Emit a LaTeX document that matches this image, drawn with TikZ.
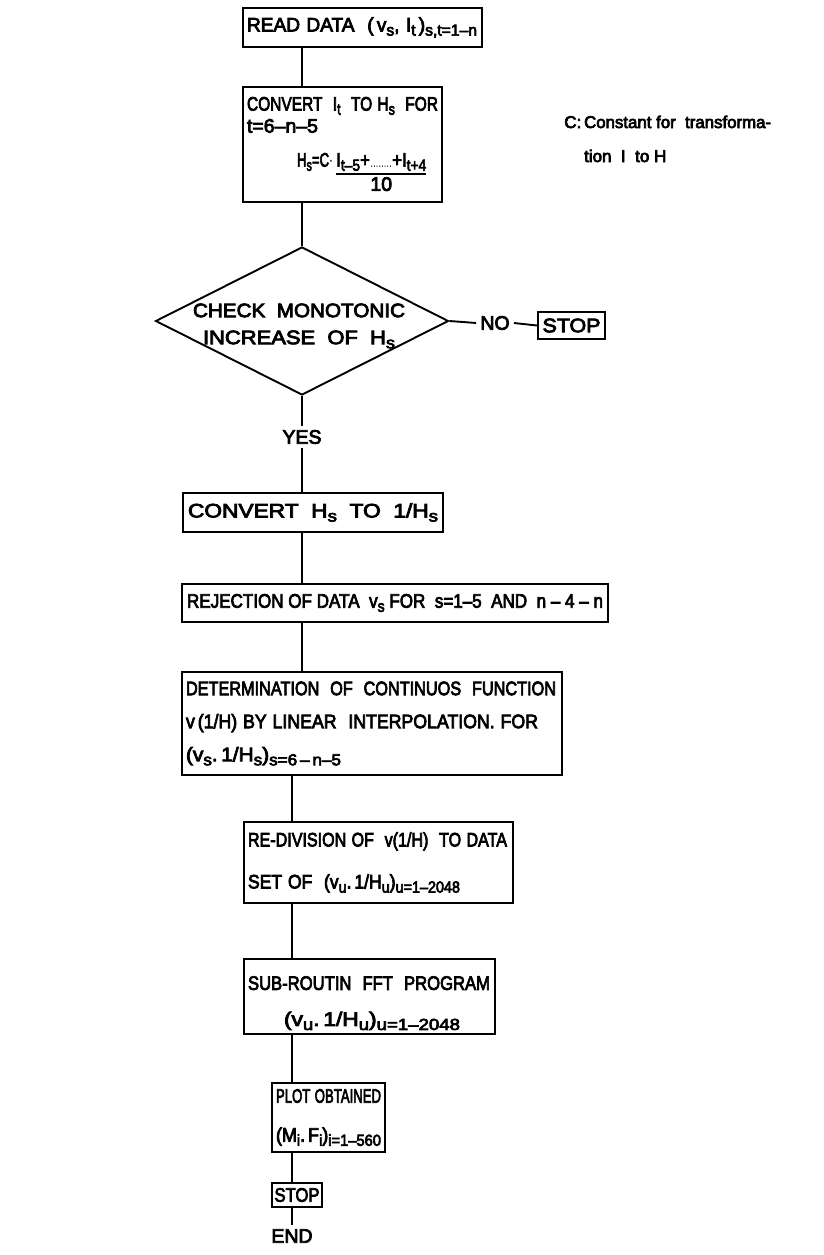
\documentclass[tikz,border=0pt]{standalone}
\usepackage{graphicx}
\usepackage{fontspec}
\setmainfont{Liberation Sans}[FakeBold=4]
\usetikzlibrary{positioning,shapes.geometric}
\newcommand{\sbs}[1]{\raisebox{-0.4ex}{\fontsize{16}{16}\selectfont #1}}
\newcommand{\fitw}[2]{\resizebox{#1}{\height}{#2}}
\setlength{\arrayrulewidth}{1.6pt}

\begin{document}
\begin{tikzpicture}[x=1pt, y=-1pt, line width=1.9pt,
  every node/.style={font=\fontsize{19.5}{22}\selectfont},
  blk/.style={draw, rectangle, inner sep=4pt, align=left},
  dec/.style={draw, diamond, inner sep=0pt}]
\useasboundingbox (0,0) rectangle (824,1255);
\node[blk, text width=231, minimum height=39] (read) at (362.5,27.5) {\fitw{230pt}{READ DATA\ \ (\,v\sbs{s},\ I\sbs{t}\,)\sbs{s,t=1--n}}};
\node[blk, text width=191, minimum height=115] (conv) at (342.5,144.5) {\rule{0pt}{19pt}\fitw{191pt}{CONVERT\ \ I\sbs{t}\ \ TO H\sbs{s}\ \ FOR}\\
t=6--n--5\\[12pt]
\hspace*{50pt}\fitw{36pt}{H\sbs{s}=C$\cdot$}\,\begin{tabular}[t]{@{}c@{}}\fitw{90pt}{I\sbs{t--5}+\makebox[26pt]{\fontsize{7}{7}\selectfont\dotfill}+I\sbs{t+4}}\\\hline\rule{0pt}{16pt}10\end{tabular}};
\node[anchor=west, font=\fontsize{17}{20}\selectfont] (note) at (560,141) {\begin{tabular}{@{}l@{\,}l@{}}C: & \fitw{187pt}{Constant for\ \ transforma-}\\[14pt] & tion\ \ I\ \ to H\end{tabular}};
\node[dec, minimum width=293, minimum height=148] (chk) at (302,321) {};
\node[align=center] (chktxt) at (299,326) {\fitw{212pt}{CHECK\ \ MONOTONIC}\\[5pt]\fitw{192pt}{INCREASE\ \ OF\ \ H\sbs{s}}};
\node (no) at (495,323) {NO};
\node[blk, align=center, inner sep=2pt, minimum width=67, minimum height=27] (stopno) at (571.5,325.5) {\fitw{58pt}{STOP}};
\node (yes) at (302,437) {YES};
\node[blk, align=center, minimum width=260, minimum height=39] (hinv) at (313,512.5) {\fitw{250pt}{CONVERT\ \ H\sbs{s}\ \ TO\ \ 1/H\sbs{s}}};
\node[blk, align=center, minimum width=426, minimum height=38] (rej) at (395,603) {\fitw{416pt}{REJECTION OF DATA\ \ v\sbs{s}\ FOR\ \ s=1--5\ \ AND\ \ n -- 4 -- n}};
\node[blk, text width=372, minimum height=103] (det) at (372,723.5) {\fitw{370pt}{DETERMINATION\ \ OF\ \ CONTINUOS\ \ FUNCTION}\\[11pt]
\fitw{352pt}{v\,(1/H)\ BY LINEAR\ \ INTERPOLATION.\ FOR}\\[11pt]
\fitw{155pt}{(v\sbs{s}.\,1/H\sbs{s})\sbs{s=6\,--\,n--5}}};
\node[blk, text width=261, minimum height=81] (redv) at (378.5,862.5) {\fitw{259pt}{RE-DIVISION OF\ \ v(1/H)\ \ TO DATA}\\[20pt]
\fitw{212pt}{SET OF\ \ (v\sbs{u}.\,1/H\sbs{u})\sbs{u=1--2048}}};
\node[blk, text width=243, minimum height=75] (fft) at (369.5,996.5) {\rule{0pt}{27pt}\fitw{242pt}{SUB-ROUTIN\ \ FFT\ \ PROGRAM}\\[14pt]
\hspace*{36pt}\fitw{176pt}{(v\sbs{u}.\,1/H\sbs{u})\sbs{u=1--2048}}};
\node[blk, text width=105, minimum height=69] (plot) at (328.5,1117.5) {\fitw{105pt}{PLOT OBTAINED}\\[17pt]
\fitw{105pt}{(M\sbs{i}.\,F\sbs{i})\sbs{i=1--560}}};
\node[blk, align=center, inner sep=2pt, minimum width=50, minimum height=24] (stopend) at (297,1195) {\fitw{45pt}{STOP}};
\node (fin) at (292,1236) {END};

\draw (read.south -| chk.north) -- (conv.north -| chk.north);
\draw (conv.south -| chk.north) -- (chk.north);
\draw (chk.east) -- (no.west);
\draw (no.east) -- (stopno.west);
\draw (chk.south) -- (yes.north);
\draw (yes.south) -- (hinv.north -| yes.south);
\draw (hinv.south -| yes) -- (rej.north -| yes);
\draw (rej.south -| yes) -- (det.north -| yes);
\draw (det.south -| fin) -- (redv.north -| fin);
\draw (redv.south -| fin) -- (fft.north -| fin);
\draw (fft.south -| fin) -- (plot.north -| fin);
\draw (plot.south -| fin) -- (stopend.north -| fin);
\draw (stopend.south -| fin) -- (fin.north);
\end{tikzpicture}
\end{document}
